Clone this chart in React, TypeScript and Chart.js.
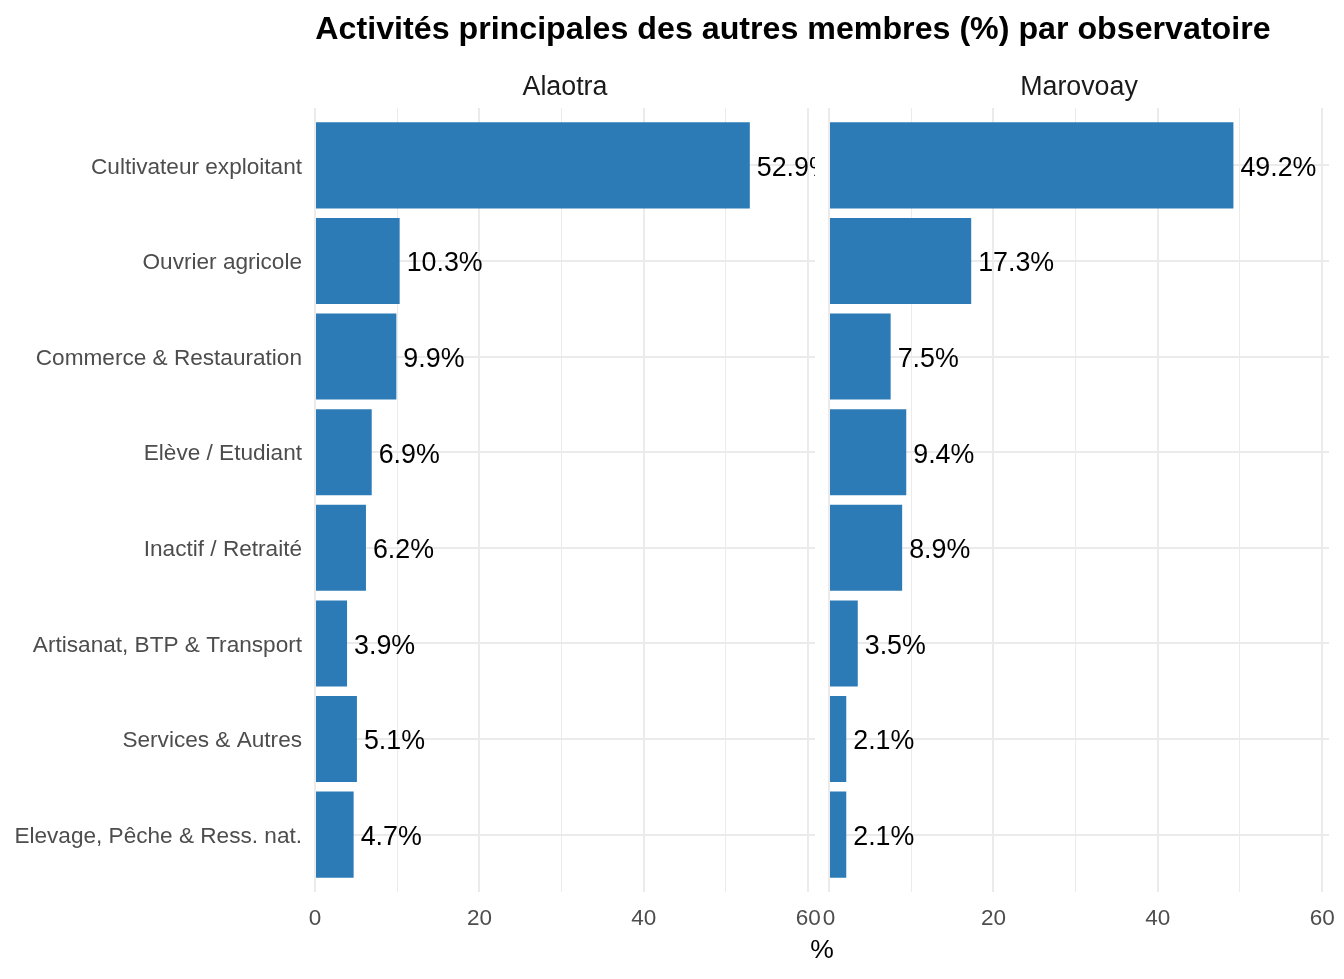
import React, { useEffect, useRef } from "react";
import { Chart, registerables } from "chart.js";

Chart.register(...registerables);

const categories = [
  "Cultivateur exploitant",
  "Ouvrier agricole",
  "Commerce & Restauration",
  "Elève / Etudiant",
  "Inactif / Retraité",
  "Artisanat, BTP & Transport",
  "Services & Autres",
  "Elevage, Pêche & Ress. nat.",
];
const panels = ["Alaotra", "Marovoay"];
const alaotraValues = [52.9, 10.3, 9.9, 6.9, 6.2, 3.9, 5.1, 4.7];
const marovoayValues = [49.2, 17.3, 7.5, 9.4, 8.9, 3.5, 2.1, 2.1];
const xTicks = [0, 10, 20, 30, 40, 50, 60];
const xMajorTicks = [0, 20, 40, 60];
const title = "Activités principales des autres membres (%) par observatoire";
const xTitle = "%";
const xMax = 60.83;

const FONT = "'Liberation Sans', Arial, Helvetica, sans-serif";
const BAR_COLOR = "#2C7BB6";
const GRID = "#EBEBEB";

const valueLabelPlugin = {
  id: "valueLabels",
  afterDatasetsDraw(chart: any) {
    const { ctx, chartArea } = chart;
    const meta = chart.getDatasetMeta(0);
    const data = chart.data.datasets[0].data as any[];
    ctx.save();
    ctx.beginPath();
    ctx.rect(chartArea.left, chartArea.top, chartArea.right - chartArea.left, chartArea.bottom - chartArea.top);
    ctx.clip();
    ctx.font = `26.8px ${FONT}`;
    ctx.fillStyle = "#000000";
    ctx.textAlign = "left";
    ctx.textBaseline = "middle";
    meta.data.forEach((bar: any, i: number) => {
      const v = data[i].x as number;
      ctx.fillText(v.toFixed(1) + "%", bar.x + 7, bar.y + 3);
    });
    ctx.restore();
  },
};

function makePanel(canvas: HTMLCanvasElement, values: number[], showLabels: boolean, yWidth: number, padRight: number) {
  return new Chart(canvas, {
    type: "bar",
    data: {
      datasets: [
        {
          data: values.map((v, i) => ({ x: v, y: i })),
          backgroundColor: BAR_COLOR,
          borderWidth: 0,
          barPercentage: 0.9,
          categoryPercentage: 1.0,
        } as any,
      ],
    },
    options: {
      indexAxis: "y",
      animation: false,
      responsive: false,
      layout: { padding: { top: 108, right: padRight, left: 0, bottom: 0 } },
      plugins: { legend: { display: false }, tooltip: { enabled: false }, title: { display: false } },
      scales: {
        x: {
          type: "linear",
          position: "bottom",
          min: 0,
          max: xMax,
          offset: false,
          afterBuildTicks: (scale: any) => {
            scale.ticks = xTicks.map((v) => ({ value: v }));
          },
          afterFit: (scale: any) => {
            scale.height = 87;
          },
          border: { display: false },
          grid: {
            color: GRID,
            drawTicks: false,
            offset: false,
            lineWidth: (ctx: any) => (xMajorTicks.includes(ctx.tick?.value) ? 2 : 1),
          },
          ticks: {
            autoSkip: false,
            maxRotation: 0,
            padding: 13,
            color: "#4D4D4D",
            font: { family: FONT, size: 22.5 },
            callback: (value: any) => (xMajorTicks.includes(Number(value)) ? String(value) : ""),
          },
        },
        y: {
          type: "linear",
          position: "left",
          min: -0.6,
          max: 7.6,
          reverse: true,
          offset: false,
          afterBuildTicks: (scale: any) => {
            scale.ticks = categories.map((_, i) => ({ value: i }));
          },
          afterFit: (scale: any) => {
            scale.width = yWidth;
          },
          border: { display: false },
          grid: { color: GRID, lineWidth: 2, drawTicks: false, offset: false },
          ticks: {
            autoSkip: false,
            padding: 13,
            labelOffset: 2,
            color: "#4D4D4D",
            font: { family: FONT, size: 22.6 },
            callback: (_v: any, index: number) => (showLabels ? categories[index] : ""),
          },
        },
      },
    } as any,
    plugins: [valueLabelPlugin],
  });
}

export default function App() {
  const leftRef = useRef<HTMLCanvasElement>(null);
  const rightRef = useRef<HTMLCanvasElement>(null);

  useEffect(() => {
    const c1 = makePanel(leftRef.current!, alaotraValues, true, 315, 25);
    const c2 = makePanel(rightRef.current!, marovoayValues, false, 29, 25);
    return () => {
      c1.destroy();
      c2.destroy();
    };
  }, []);

  const textBase: React.CSSProperties = { position: "absolute", fontFamily: FONT, whiteSpace: "nowrap" };

  return (
    <div style={{ position: "absolute", left: 0, top: 0, width: 1344, height: 979, background: "#fff", overflow: "hidden" }}>
      <canvas ref={leftRef} width={840} height={979} style={{ position: "absolute", left: 0, top: 0, width: 840, height: 979 }} />
      <canvas ref={rightRef} width={554} height={979} style={{ position: "absolute", left: 800, top: 0, width: 554, height: 979 }} />
      <div style={{ ...textBase, left: 293, width: 1000, top: 12, textAlign: "center", fontSize: 32.2, lineHeight: "32px", fontWeight: "bold", color: "#000" }}>
        {title}
      </div>
      <div style={{ ...textBase, left: 315, width: 500, top: 73, textAlign: "center", fontSize: 26.8, lineHeight: "26px", color: "#1A1A1A" }}>
        {panels[0]}
      </div>
      <div style={{ ...textBase, left: 829, width: 500, top: 73, textAlign: "center", fontSize: 26.8, lineHeight: "26px", color: "#1A1A1A" }}>
        {panels[1]}
      </div>
      <div style={{ ...textBase, left: 722, width: 200, top: 936, textAlign: "center", fontSize: 26.5, lineHeight: "26px", color: "#000" }}>
        {xTitle}
      </div>
    </div>
  );
}
